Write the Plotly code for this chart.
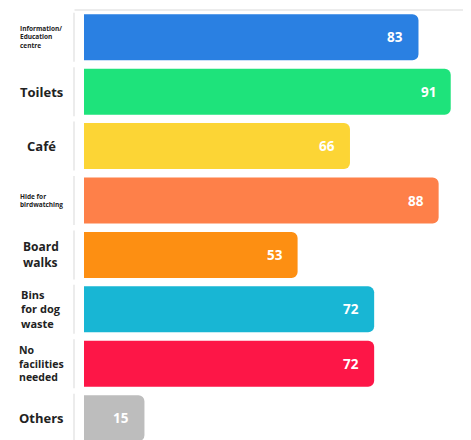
import plotly.graph_objects as go

categories = ["Information/Education centre", "Toilets", "Café", "Hide for birdwatching",
              "Board walks", "Bins for dog waste", "No facilities needed", "Others"]
tick_labels = ["Information/<br>Education<br>centre", "Toilets", "Café", "Hide for<br>birdwatching",
               "Board<br>walks", "Bins<br>for dog<br>waste", "No<br>facilities<br>needed", "Others"]
label_sizes = [6.5, 13, 13, 6.5, 12, 11, 10.5, 13]
values = [83, 91, 66, 88, 53, 72, 72, 15]
colors = ["#2a80e2", "#1ee37b", "#fcd535", "#fe8049", "#fd8f12", "#18b6d4", "#fd1647", "#bdbdbd"]

# page body adds an 8px offset
OFF = 8
W, H = 471 - OFF, 440 - OFF
ML, MR, MT, MB = 84 - OFF, 4, 10 - OFF, 0
plot_w = W - ML - MR

fig = go.Figure(go.Bar(
    x=values, y=categories, orientation="h",
    marker=dict(color=colors, cornerradius=6, line=dict(width=0)),
    hoverinfo="skip",
))

font_family = "Open Sans"
annotations = []
for i, (c, lab, v, fs) in enumerate(zip(categories, tick_labels, values, label_sizes)):
    annotations.append(dict(
        x=(41 - 84) / plot_w, xref="paper", y=c, yref="y",
        text=lab, showarrow=False, xanchor="center", yanchor="middle", align="left",
        font=dict(family=font_family, size=fs, color="#222222", weight="bold"),
    ))
    annotations.append(dict(
        x=v, xref="x", y=c, yref="y", xshift=-13,
        text=str(v), showarrow=False, xanchor="right", yanchor="middle",
        font=dict(family=font_family, size=13.5, color="#ffffff", weight="bold"),
    ))

shapes = [dict(type="line", xref="paper", yref="paper", x0=-9.5 / plot_w, x1=1, y0=1.0, y1=1.0,
               line=dict(color="#e6e6e6", width=1.5), layer="below")]
for i in range(len(categories)):
    shapes.append(dict(type="line", xref="paper", yref="y", x0=-10 / plot_w, x1=-10 / plot_w,
                       y0=i - 0.45, y1=i + 0.45, line=dict(color="#ececec", width=2), layer="below"))

fig.update_layout(
    width=W, height=H,
    margin=dict(l=ML, r=MR, t=MT, b=MB),
    paper_bgcolor="white", plot_bgcolor="white",
    bargap=0.155,
    showlegend=False,
    xaxis=dict(range=[0, plot_w / 4.03], showgrid=False, zeroline=False, showticklabels=False, fixedrange=True),
    yaxis=dict(categoryorder="array", categoryarray=categories, range=[7.40, -0.5],
               showgrid=False, zeroline=False, showticklabels=False, fixedrange=True),
    annotations=annotations, shapes=shapes,
)

fig.write_html("out.html")
